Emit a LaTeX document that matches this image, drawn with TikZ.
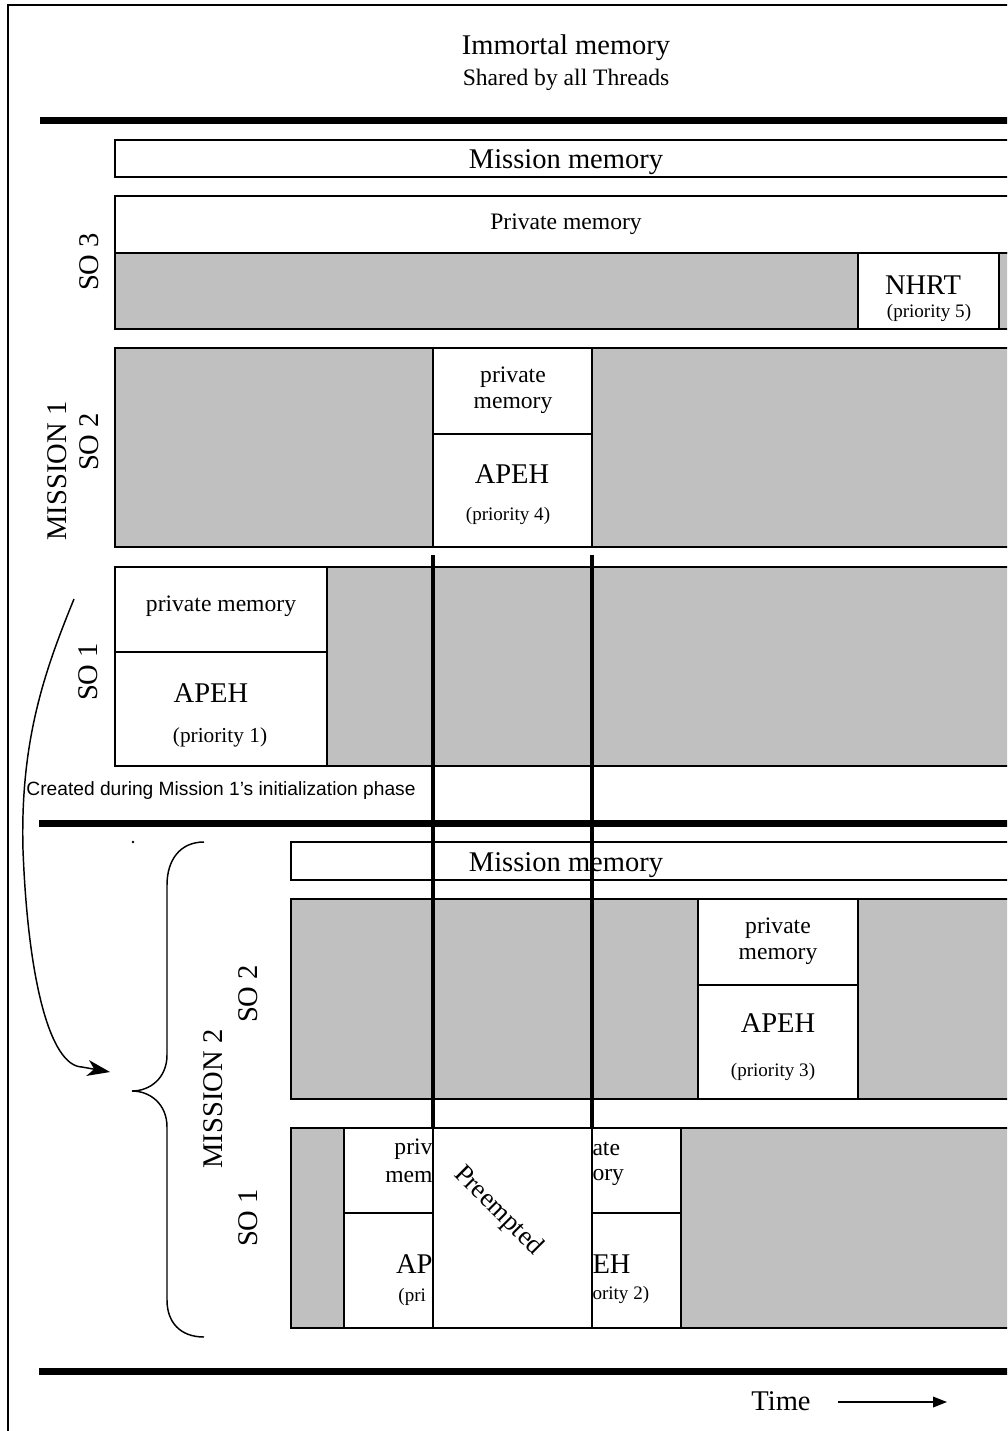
\documentclass[tikz,border=0pt]{standalone}
\usepackage{fontspec}
\setmainfont{Liberation Serif}
\newfontfamily\notefont{Liberation Sans}
\usetikzlibrary{arrows.meta}

\definecolor{idlegrey}{RGB}{192,192,192}

\tikzset{every picture/.style={line width=0.75pt}}
\tikzset{
  membox/.style={draw, line width=1.2pt, fill=white},
  idlebox/.style={draw, line width=1.2pt, fill=idlegrey},
  bigtxt/.style={inner sep=0.75pt, font=\fontsize{21.4}{25}\selectfont},
  midtxt/.style={inner sep=0.75pt, font=\fontsize{17.7}{21}\selectfont},
  prio/.style={inner sep=0.75pt, font=\fontsize{14.3}{17}\selectfont},
  notetxt/.style={inner sep=0.75pt, font=\notefont\fontsize{14.4}{17}\selectfont},
  sepline/.style={line width=5.25pt},
  preemptline/.style={line width=2.5pt},
}

\begin{document}
\begin{tikzpicture}[x=0.75pt,y=0.75pt,yscale=-1,xscale=1]
\clip (0,0) rectangle (1007,1431);

%Frame
\draw [line width=1.1pt] (8,1440) -- (8,5) -- (1020,5) ;

%Separators
\draw [sepline] (40,120) -- (1020,120) ;
\draw [sepline] (39,823) -- (1020,823) ;
\draw [sepline] (39,1371) -- (1020,1371) ;

%Mission 1
\draw [membox] (115,140) rectangle (1020,177) ;
\draw [membox] (115,196) rectangle (1020,253) ;
\draw [idlebox] (115,253) rectangle (1020,329) ;
\draw [membox] (858,253) rectangle (999,329) ;
\draw [idlebox] (115,348) rectangle (1020,547) ;
\draw [membox] (433,348) rectangle (592,547) ;
\draw [line width=1.2pt] (433,434) -- (592,434) ;
\draw [idlebox] (115,567) rectangle (1020,766) ;
\draw [membox] (115,567) rectangle (327,766) ;
\draw [line width=1.2pt] (115,652) -- (327,652) ;

%Mission 2
\draw [membox] (291,842) rectangle (1020,880) ;
\draw [idlebox] (291,899) rectangle (1020,1099) ;
\draw [membox] (698,899) rectangle (858,1099) ;
\draw [line width=1.2pt] (698,985) -- (858,985) ;
\draw [idlebox] (291,1128) rectangle (1020,1328) ;
\draw [membox] (344,1128) rectangle (681,1328) ;
\draw [line width=1.2pt] (344,1213) -- (681,1213) ;
\draw [membox] (433,1128) rectangle (592,1328) ;

% Text Node
\draw (566,48) node [bigtxt] (immortal) {Immortal memory};
\draw (566,80) node [midtxt] (shared) {Shared by all Threads};
\draw (566,162) node [bigtxt] (missionmemone) {Mission memory};
\draw (566,224) node [midtxt] (privthree) {Private memory};
\draw (923,285) node [bigtxt] (nhrt) {NHRT};
\draw (929,313) node [prio] (prionhrt) {(priority 5)};
\draw (513,377) node [midtxt] (privtwoa) {private};
\draw (513,405) node [midtxt] (privtwob) {memory};
\draw (512,474) node [bigtxt] (apehfour) {APEH};
\draw (508,516) node [prio] (priofour) {(priority 4)};
\draw (221,606) node [midtxt] (privone) {private memory};
\draw (211,693) node [bigtxt] (apehone) {APEH};
\draw (220,737) node [inner sep=0.75pt, font=\fontsize{16}{19}\selectfont] (prioone) {(priority 1)};
\draw (221,791) node [notetxt] (created) {Created during Mission 1’s initialization phase};
\draw (566,865) node [bigtxt] (missionmemtwo) {Mission memory};
\draw (778,928) node [midtxt] (privm2a) {private};
\draw (778,956) node [midtxt] (privm2b) {memory};
\draw (778,1023) node [bigtxt] (apehthree) {APEH};
\draw (773,1072) node [prio] (priothree) {(priority 3)};
% Text Node, cut by the preempted slot
\draw (433,1149) node [midtxt, anchor=east, inner sep=0pt] (cutprivl) {priv};
\draw (433,1177) node [midtxt, anchor=east, inner sep=0pt] (cutmeml) {mem};
\draw (433,1264) node [bigtxt, anchor=east, inner sep=0pt] (cutapehl) {AP};
\draw (426.5,1297) node [prio, anchor=east, inner sep=0pt] (cutpriol) {(pri};
\draw (592,1149) node [midtxt, anchor=west, inner sep=0pt] (cutprivr) {ate};
\draw (592,1177) node [midtxt, anchor=west, inner sep=0pt] (cutmemr) {ory};
\draw (592,1264) node [bigtxt, anchor=west, inner sep=0pt] (cutapehr) {EH};
\draw (592,1295) node [prio, anchor=west, inner sep=0pt] (cutprior) {ority 2)};
\draw (498,1211) node [inner sep=0pt, font=\fontsize{20}{24}\selectfont, rotate=-45] (preempted) {Preempted};

% Rotated labels
\draw (89,262) node [bigtxt, rotate=90] (sothree) {SO 3};
\draw (89,442) node [bigtxt, rotate=90] (sotwoa) {SO 2};
\draw (57,471) node [bigtxt, rotate=90] (missionone) {MISSION 1};
\draw (88,672) node [bigtxt, rotate=90] (soonea) {SO 1};
\draw (248,994) node [bigtxt, rotate=90] (sotwob) {SO 2};
\draw (213,1099) node [bigtxt, rotate=90] (missiontwo) {MISSION 2};
\draw (248,1218) node [bigtxt, rotate=90] (sooneb) {SO 1};
\draw (781,1401) node [bigtxt] (time) {Time};

%Preemption bounds
\draw [preemptline] (433,555) -- (433,1128) ;
\draw [preemptline] (592,555) -- (592,1128) ;

%Brace
\coordinate (bracetip) at (132,1091);
\draw [line width=1.1pt] (204,842) .. controls (180,842) and (167,860) .. (167,885) -- (167,1055) .. controls (167,1078) and (150,1091) .. (bracetip) .. controls (150,1091) and (167,1104) .. (167,1127) -- (167,1300) .. controls (167,1322) and (180,1337) .. (204,1337) ;
\fill (133,842) circle (1pt) ;

%Curved arrow
\coordinate (arrowstart) at (74,599);
\coordinate (arrowend) at (110,1072);
\draw [line width=1.1pt, -{Stealth[length=17pt,width=12pt,inset=5pt]}] (arrowstart) .. controls (45,670) and (20,740) .. (23,850) .. controls (28,980) and (50,1066) .. (82,1067) -- (arrowend) ;

%Time arrow
\coordinate (timestart) at (838,1402);
\coordinate (timeend) at (947,1402);
\draw [line width=1.1pt, -{Triangle[length=10.5pt,width=8pt]}] (timestart) -- (timeend) ;

\end{tikzpicture}
\end{document}
